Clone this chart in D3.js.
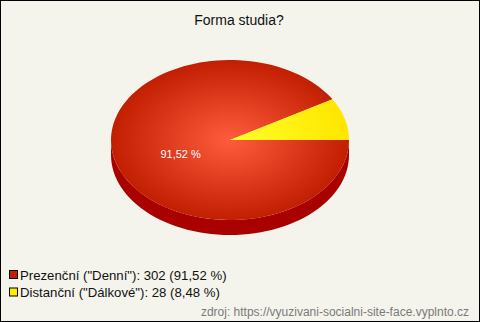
<!DOCTYPE html>
<html>
<head>
<meta charset="utf-8">
<script src="https://cdn.jsdelivr.net/npm/d3@7"></script>
<style>
  html, body { margin: 0; padding: 0; background: #f4f4ec; }
  svg { display: block; font-family: "Liberation Sans", Arial, sans-serif; }
</style>
</head>
<body>
<script>
// Survey answers: "Forma studia?"
const categories = ['Prezenční ("Denní")', 'Distanční ("Dálkové")'];
const counts = [302, 28];
const percents = ["91,52", "8,48"];
const topColors = [["#ff5b3d", "#c21f02"], ["#ffff2a", "#ffe600"]];
const sideColors = ["#a90000", "#c8b400"];
const legendColors = ["#c01e00", "#ffee00"];

const W = 480, H = 322;
const cx = 230, cy = 140, rx = 119, ry = 80, depth = 15;

const svg = d3.select("body").append("svg").attr("width", W).attr("height", H);

svg.append("rect").attr("x", 0.5).attr("y", 0.5).attr("width", W - 1).attr("height", H - 1)
  .attr("fill", "#f4f4ec").attr("stroke", "#000").attr("stroke-width", 1);

svg.append("text").attr("x", 239).attr("y", 25).attr("text-anchor", "middle")
  .attr("font-size", 14).attr("fill", "#111").text("Forma studia?");

const defs = svg.append("defs");
topColors.forEach((c, i) => {
  const g = defs.append("radialGradient").attr("id", "top" + i)
    .attr("gradientUnits", "userSpaceOnUse")
    .attr("cx", cx).attr("cy", cy).attr("r", rx)
    .attr("gradientTransform", `translate(${cx},${cy}) scale(1,${ry / rx}) translate(${-cx},${-cy})`);
  g.append("stop").attr("offset", "0%").attr("stop-color", c[0]);
  g.append("stop").attr("offset", "100%").attr("stop-color", c[1]);
});

// Slices run clockwise from the east so the small slice ends at 3 o'clock
const pie = d3.pie().sort(null).value(d => d)
  .startAngle(Math.PI / 2).endAngle(Math.PI / 2 + 2 * Math.PI);
const arcs = pie(counts);

// point on the ellipse rim for a d3 angle (0 = north, clockwise)
const pt = (a, dy = 0) => [cx + rx * Math.sin(a), cy - ry * Math.cos(a) + dy];

function sidePath(a0, a1) {
  const lo = Math.max(a0, Math.PI / 2), hi = Math.min(a1, 1.5 * Math.PI);
  if (hi <= lo) return null;
  const p = d3.path();
  const n = 60;
  for (let k = 0; k <= n; k++) {
    const [x, y] = pt(lo + (hi - lo) * k / n);
    k === 0 ? p.moveTo(x, y) : p.lineTo(x, y);
  }
  for (let k = n; k >= 0; k--) {
    const [x, y] = pt(lo + (hi - lo) * k / n, depth);
    p.lineTo(x, y);
  }
  p.closePath();
  return p.toString();
}

// side wall (front half only)
arcs.forEach((d, i) => {
  const s = sidePath(d.startAngle, d.endAngle);
  if (s) svg.append("path").attr("d", s).attr("fill", sideColors[i]);
});

// top faces
arcs.forEach((d, i) => {
  const p = d3.path();
  p.moveTo(cx, cy);
  const n = 120;
  for (let k = 0; k <= n; k++) {
    const [x, y] = pt(d.startAngle + (d.endAngle - d.startAngle) * k / n);
    p.lineTo(x, y);
  }
  p.closePath();
  svg.append("path").attr("d", p.toString()).attr("fill", `url(#top${i})`);
});

// percentage label on the large slice
const big = arcs[0];
const mid = (big.startAngle + big.endAngle) / 2;
const lp = [cx + 0.43 * rx * Math.sin(mid), cy - 0.43 * ry * Math.cos(mid)];
svg.append("text").attr("x", lp[0]).attr("y", lp[1] + 8.5)
  .attr("text-anchor", "middle").attr("font-size", 11).attr("fill", "#fff")
  .text(percents[0] + " %");

// legend
const leg = svg.append("g");
categories.forEach((c, i) => {
  const y = 275 + i * 17.5;
  leg.append("rect").attr("x", 9.5).attr("y", y - 4.5).attr("width", 8).attr("height", 8)
    .attr("fill", legendColors[i]).attr("stroke", "#000").attr("stroke-width", 1);
  leg.append("text").attr("x", 20).attr("y", y + 4.5).attr("font-size", 13.2).attr("fill", "#111")
    .text(`${c}: ${counts[i]} (${percents[i]} %)`);
});

svg.append("text").attr("x", 469).attr("y", 316).attr("text-anchor", "end")
  .attr("font-size", 12).attr("fill", "#7a7a7a")
  .text("zdroj: https://vyuzivani-socialni-site-face.vyplnto.cz");
</script>
</body>
</html>
